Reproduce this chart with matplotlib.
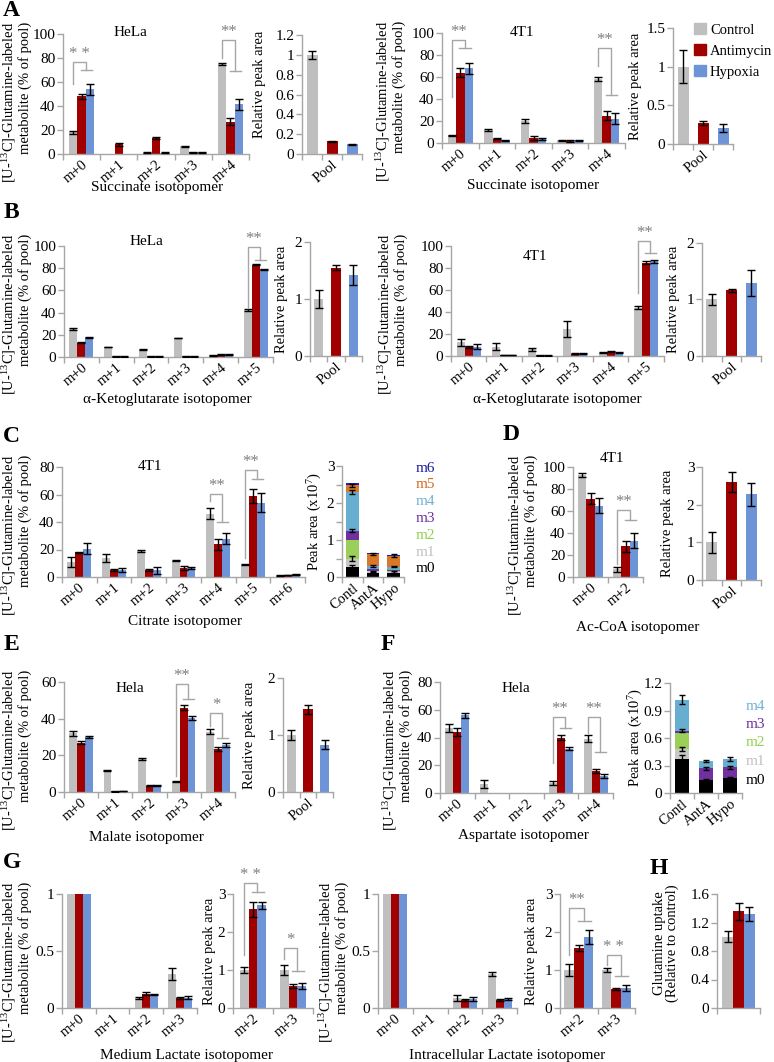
import numpy as np
import matplotlib
matplotlib.use('Agg')
import matplotlib.pyplot as plt
from matplotlib.patches import Patch

plt.rcParams['font.family'] = 'Liberation Serif'
plt.rcParams['mathtext.fontset'] = 'custom'
plt.rcParams['mathtext.rm'] = 'Liberation Serif'
plt.rcParams['mathtext.it'] = 'Liberation Serif'
plt.rcParams['mathtext.default'] = 'regular'

# colores
CTRL, ANTI, HYPO = '#bfbfbf', '#a00000', '#6d94d6'
GRIS = '#a6a6a6'
COL_M = ['#000000', '#c8c8c8', '#9bcf5a', '#7030a0', '#68aed0', '#d9772b', '#2020c0']
TXT_M = ['#000000', '#c0c0c0', '#92d050', '#7030a0', '#6fb3d2', '#d2691e', '#1a1aa0']

# ---------------- datos ----------------
iso4 = ['m+0', 'm+1', 'm+2', 'm+3']
iso5 = ['m+0', 'm+1', 'm+2', 'm+3', 'm+4']
iso6 = ['m+0', 'm+1', 'm+2', 'm+3', 'm+4', 'm+5']
iso7 = ['m+0', 'm+1', 'm+2', 'm+3', 'm+4', 'm+5', 'm+6']
condiciones = ['Control', 'Antimycin', 'Hypoxia']
apil_cat = ['Contl', 'AntA', 'Hypo']

# A - succinato HeLa
suc_hela = [[18, 0, 1, 6.5, 75], [48, 8, 13.5, 1.5, 27], [54, 0, 1, 1.5, 41.5]]
suc_hela_err = [[1, 0, 0.3, 0.5, 0.5], [2, 1.5, 1, 0.3, 3], [4.5, 0, 0.3, 0.3, 4.5]]
suc_hela_pool = [1.0, 0.13, 0.10]
suc_hela_pool_err = [0.04, 0.005, 0.005]
# A - succinato 4T1
suc_4t1 = [[7, 12, 20, 2.5, 58], [64, 4, 4.5, 2, 25], [68, 2.5, 4, 2.5, 22]]
suc_4t1_err = [[0.5, 1, 2, 0.5, 2], [4, 0.5, 1.5, 1, 4], [5, 0.3, 1, 0.5, 5]]
suc_4t1_pool = [1.0, 0.27, 0.21]
suc_4t1_pool_err = [0.21, 0.03, 0.05]

# B - alfa-cetoglutarato
akg_hela = [[25, 9, 6.5, 17, 1.5, 42], [13, 0.5, 0.5, 0.5, 2, 83], [17.5, 0.5, 0.5, 0.5, 2, 79]]
akg_hela_err = [[1, 0.3, 0.3, 0.3, 0.3, 1], [0.5, 0.2, 0.2, 0.2, 0.3, 0.5], [0.5, 0.2, 0.2, 0.2, 0.3, 0.3]]
akg_hela_pool = [1.0, 1.55, 1.42]
akg_hela_pool_err = [0.15, 0.05, 0.17]
akg_4t1 = [[12.5, 8.5, 6, 24.5, 3, 44], [8, 1, 0.5, 2, 4, 85], [8.5, 1, 0.5, 2, 3, 86]]
akg_4t1_err = [[3, 3, 1.5, 7, 0.5, 1], [1, 0.2, 0.2, 0.3, 0.5, 1.5], [2, 0.2, 0.2, 0.3, 0.5, 1]]
akg_4t1_pool = [1.0, 1.16, 1.3]
akg_4t1_pool_err = [0.1, 0.02, 0.23]

# C - citrato 4T1
cit_4t1 = [[11, 14, 19, 12, 46, 9, 1], [18, 5, 5, 6.5, 24, 59, 1.5], [20.5, 5, 5, 6.5, 28, 54, 2]]
cit_4t1_err = [[3.5, 3, 0.8, 0.3, 4, 0.5, 0.2], [0.5, 0.5, 0.5, 1.5, 4, 5, 0.2], [4, 1.5, 2.5, 0.5, 4, 7, 0.3]]
# area de pico apilada (x10^7), m0..m6
cit_apil = [[0.28, 0.10, 0.10], [0.22, 0.05, 0.04], [0.50, 0.02, 0.02], [0.25, 0.04, 0.04],
            [1.05, 0.09, 0.08], [0.18, 0.33, 0.30], [0.05, 0.02, 0.02]]
cit_apil_err = [[0.05, 0.02, 0.02], [0.08, 0.02, 0.02], [0.0, 0.0, 0.0], [0.04, 0.0, 0.0],
                [0.05, 0.02, 0.02], [0.04, 0.03, 0.04], [0.0, 0.0, 0.0]]

# D - acetil-CoA 4T1
acoa = [[93, 7], [71, 28], [65, 33]]
acoa_err = [[2, 2], [5, 5], [7, 7]]
acoa_pool = [1.0, 2.6, 2.27]
acoa_pool_err = [0.28, 0.27, 0.3]

# E - malato Hela
mal = [[32, 11.5, 18, 5.5, 33], [27, 0.3, 3.5, 46, 23.5], [30, 0.5, 3.5, 40.5, 25.5]]
mal_err = [[1.5, 0.3, 0.3, 0.3, 1.5], [1, 0.1, 0.3, 1.5, 1], [0.5, 0.1, 0.3, 1, 1]]
mal_pool = [1.0, 1.45, 0.83]
mal_pool_err = [0.08, 0.08, 0.08]

# F - aspartato Hela
asp = [[47, 6.5, 0, 7, 39], [44, 0, 0, 40, 16], [56, 0, 0, 32, 12]]
asp_err = [[3, 3, 0, 1.5, 2.5], [3, 0, 0, 2, 1.5], [2, 0, 0, 0.8, 1.5]]
# area de pico apilada (x10^7), m0..m4
asp_apil = [[0.37, 0.14, 0.16], [0.11, 0.0, 0.0], [0.17, 0.0, 0.0], [0.03, 0.13, 0.12], [0.34, 0.08, 0.09]]
asp_apil_err = [[0.04, 0.01, 0.01], [0.02, 0.0, 0.0], [0.0, 0.0, 0.0], [0.015, 0.015, 0.015], [0.05, 0.015, 0.02]]

# G - lactato
lac_med = [[1.0, 0, 0.085, 0.30], [1.0, 0, 0.125, 0.09], [1.0, 0, 0.12, 0.09]]
lac_med_err = [[0, 0, 0.01, 0.05], [0, 0, 0.015, 0.01], [0, 0, 0.005, 0.015]]
lac_med_rel = [[1.0, 1.0], [2.6, 0.57], [2.7, 0.58]]
lac_med_rel_err = [[0.08, 0.12], [0.2, 0.05], [0.1, 0.08]]
lac_int = [[1.0, 0, 0.09, 0.30], [1.0, 0, 0.07, 0.07], [1.0, 0, 0.08, 0.08]]
lac_int_err = [[0, 0, 0.025, 0.02], [0, 0, 0.005, 0.005], [0, 0, 0.015, 0.01]]
lac_int_rel = [[1.0, 1.0], [1.58, 0.5], [1.86, 0.53]]
lac_int_rel_err = [[0.15, 0.05], [0.07, 0.03], [0.18, 0.08]]

# H - captacion de glutamina
gln = [1.0, 1.36, 1.32]
gln_err = [0.08, 0.12, 0.1]

# ---------------- figura ----------------
W, H = 774, 1062
fig = plt.figure(figsize=(W / 100, H / 100), dpi=100)

YLAB = r'[U-$^{13}$C]-Glutamine-labeled' + '\nmetabolite (% of pool)'
PEAK = r'Peak area (x10$^{7}$)'
ROT = 40


def eje(x0, y0, x1, y1, ymax, ystep, ncat, cada=1):
    ax = fig.add_axes([x0 / W, 1 - y1 / H, (x1 - x0) / W, (y1 - y0) / H])
    ax.patch.set_alpha(0)
    for s in ['top', 'right']:
        ax.spines[s].set_visible(False)
    for s in ['left', 'bottom']:
        ax.spines[s].set_color(GRIS)
        ax.spines[s].set_linewidth(1)
    ax.set_xlim(-0.5, ncat - 0.5)
    ax.set_ylim(0, ymax)
    ticks = np.arange(0, ymax + ystep / 2, ystep)
    ax.set_yticks(ticks)
    ax.set_yticklabels([f'{round(t, 2):g}' if k % cada == 0 else '' for k, t in enumerate(ticks)])
    ax.tick_params(axis='y', colors=GRIS, labelcolor='black', length=4, width=1, labelsize=11, pad=1.5)
    ax.set_xticks(np.arange(ncat + 1) - 0.5)
    ax.tick_params(axis='x', which='major', colors=GRIS, length=4, width=1, labelbottom=False)
    return ax


def xlabs(ax, pos, labels):
    ax.set_xticks(pos, minor=True)
    ax.set_xticklabels(labels, minor=True, rotation=ROT, ha='right', va='top',
                       rotation_mode='anchor', fontsize=10.5)
    ax.tick_params(axis='x', which='minor', length=0, pad=3)


def barras(ax, vals, errs, w=0.23):
    n = len(vals[0])
    x = np.arange(n)
    for k, (v, e, c) in enumerate(zip(vals, errs, [CTRL, ANTI, HYPO])):
        xs = x + (k - 1) * w
        v = np.array(v, float)
        e = np.array(e, float)
        ax.bar(xs, v, w, color=c, zorder=2)
        m = e > 0
        ax.errorbar(xs[m], v[m], yerr=e[m], fmt='none', ecolor='black', elinewidth=1,
                    capsize=3, capthick=1, zorder=3)


def pool(ax, vals, errs, w=0.55):
    x = np.arange(3)
    ax.bar(x, vals, w, color=[CTRL, ANTI, HYPO], zorder=2)
    ax.errorbar(x, vals, yerr=errs, fmt='none', ecolor='black', elinewidth=1,
                capsize=3, capthick=1, zorder=3)
    xlabs(ax, [1], ['Pool'])


def apiladas(ax, segs, errs, w=0.6):
    x = np.arange(3)
    base = np.zeros(3)
    for seg, e, c in zip(segs, errs, COL_M):
        seg = np.array(seg, float)
        e = np.array(e, float)
        ax.bar(x, seg, w, bottom=base, color=c, zorder=2)
        top = base + seg
        m = e > 0
        ax.errorbar(x[m], top[m], yerr=e[m], fmt='none', ecolor='black', elinewidth=1,
                    capsize=2.5, capthick=1, zorder=3)
        base = top
    xlabs(ax, x, apil_cat)


def corchete(ax, i, y0, ytop, ypar, txt, w=0.23, dy=0):
    xl, xr = i - w, i + w / 2
    ax.plot([xl, xl, xr, xr], [y0, ytop, ytop, ypar], color=GRIS, lw=1, clip_on=False, zorder=4)
    ax.plot([i - 0.1 * w, i + 1.25 * w], [ypar, ypar], color=GRIS, lw=1, clip_on=False, zorder=4)
    ax.annotate(txt, ((xl + xr) / 2, ytop), xytext=(0, dy), textcoords='offset points',
                ha='center', va='bottom', color='#7f7f7f', fontsize=12, annotation_clip=False)


def ylab(ax, txt, xpx, dy=0, fs=10.5):
    # etiqueta de una linea, centrada en el eje
    b = ax.get_position()
    fig.text(xpx / W, b.y0 + b.height / 2 - dy / H, txt, rotation=90, ha='center', va='center',
             fontsize=fs, linespacing=1.0)


def ylab_iso(ax, xpx):
    # etiqueta de dos lineas, alineada arriba como en Excel
    b = ax.get_position()
    fig.text(xpx / W, b.y1 + 12 / H, YLAB, rotation=90, ha='center', va='top',
             multialignment='right', fontsize=10.5, linespacing=0.95)


def texto(xpx, ypx, txt, **kw):
    fig.text(xpx / W, 1 - ypx / H, txt, ha='center', va='center', **kw)


def letra(xpx, ypx, txt):
    texto(xpx, ypx, txt, fontsize=17, fontweight='bold')


# ---- A ----
letra(11, 11, 'A')
ax = eje(63, 34, 249, 154, 100, 20, 5)
barras(ax, suc_hela, suc_hela_err)
xlabs(ax, np.arange(5), iso5)
corchete(ax, 0, 58, 77, 70, '* *')
corchete(ax, 4, 80, 95, 69, '**')
ylab_iso(ax, 16)
texto(130, 33, 'HeLa', fontsize=11)
texto(157, 188, 'Succinate isotopomer', fontsize=11)

ax = eje(302, 35, 362, 154, 1.2, 0.2, 3)
pool(ax, suc_hela_pool, suc_hela_pool_err)
ylab(ax, 'Relative peak area', 259, dy=-10)

ax = eje(442, 33, 625, 143, 100, 20, 5)
barras(ax, suc_4t1, suc_4t1_err)
xlabs(ax, np.arange(5), iso5)
corchete(ax, 0, 42, 94, 86, '**')
corchete(ax, 4, 70, 86, 44, '**')
ylab_iso(ax, 390)
texto(522, 32, '4T1', fontsize=11)
texto(533, 186, 'Succinate isotopomer', fontsize=11)

ax = eje(673, 28, 733, 144, 1.5, 0.5, 3)
pool(ax, suc_4t1_pool, suc_4t1_pool_err)
ylab(ax, 'Relative peak area', 636)

fig.legend(handles=[Patch(color=c) for c in [CTRL, ANTI, HYPO]], labels=condiciones,
           loc='upper left', bbox_to_anchor=(694 / W, 1 - 23 / H), frameon=False, fontsize=10.5,
           handlelength=0.8, handleheight=0.8, handletextpad=0.3, labelspacing=0.5, borderpad=0,
           borderaxespad=0)

# ---- B ----
letra(11, 212, 'B')
ax = eje(64, 246, 273, 357, 100, 20, 6)
barras(ax, akg_hela, akg_hela_err)
xlabs(ax, np.arange(6), iso6)
corchete(ax, 5, 44, 99, 87, '**')
ylab_iso(ax, 16)
texto(146, 242, 'HeLa', fontsize=11)
texto(167, 400, 'α-Ketoglutarate isotopomer', fontsize=11)

ax = eje(310, 242, 362, 356, 2, 1, 3)
pool(ax, akg_hela_pool, akg_hela_pool_err)
ylab(ax, 'Relative peak area', 281)

ax = eje(451, 246, 664, 356, 100, 20, 6)
barras(ax, akg_4t1, akg_4t1_err)
xlabs(ax, np.arange(6), iso6)
corchete(ax, 5, 57, 105, 94, '**')
ylab_iso(ax, 392)
texto(535, 257, '4T1', fontsize=11)
texto(557, 400, 'α-Ketoglutarate isotopomer', fontsize=11)

ax = eje(702, 243, 761, 356, 2, 1, 3)
pool(ax, akg_4t1_pool, akg_4t1_pool_err)
ylab(ax, 'Relative peak area', 673)

# ---- C ----
letra(11, 437, 'C')
ax = eje(62, 467, 305, 577, 80, 20, 7)
barras(ax, cit_4t1, cit_4t1_err)
xlabs(ax, np.arange(7), iso7)
corchete(ax, 4, 55, 60.6, 40, '**')
corchete(ax, 5, 14, 77.6, 71.5, '**')
ylab_iso(ax, 16)
texto(150, 467, '4T1', fontsize=11)
texto(185, 622, 'Citrate isotopomer', fontsize=11)

ax = eje(342, 466, 404, 577, 3, 0.5, 3, cada=2)
apiladas(ax, cit_apil, cit_apil_err)
ylab(ax, PEAK, 315)
for k in range(7):
    texto(425, 569 - k * 16.8, f'm{k}', fontsize=11, color=TXT_M[k])

# ---- D ----
letra(511, 435, 'D')
ax = eje(573, 467, 643, 577, 100, 20, 2)
barras(ax, acoa, acoa_err)
xlabs(ax, np.arange(2), ['m+0', 'm+2'])
corchete(ax, 1, 12, 61, 52, '**')
ylab_iso(ax, 522)
texto(612, 458, '4T1', fontsize=11)
texto(638, 627, 'Ac-CoA isotopomer', fontsize=11)

ax = eje(702, 467, 761, 580, 3, 1, 3)
pool(ax, acoa_pool, acoa_pool_err)
ylab(ax, 'Relative peak area', 668)

# ---- E ----
letra(11, 645, 'E')
ax = eje(64, 682, 235, 792, 60, 20, 5)
barras(ax, mal, mal_err)
xlabs(ax, np.arange(5), iso5)
corchete(ax, 3, 9, 59, 51, '**')
corchete(ax, 4, 36, 43, 29.5, '*')
ylab_iso(ax, 16)
texto(130, 688, 'Hela', fontsize=11)
texto(146, 837, 'Malate isotopomer', fontsize=11)

ax = eje(283, 678, 333, 792, 2, 1, 3)
pool(ax, mal_pool, mal_pool_err)
ylab(ax, 'Relative peak area', 250)

# ---- F ----
letra(388, 645, 'F')
ax = eje(440, 682, 613, 793, 80, 20, 5)
barras(ax, asp, asp_err)
xlabs(ax, np.arange(5), iso5)
corchete(ax, 3, 21.6, 54.8, 47, '**')
corchete(ax, 4, 43, 54.8, 29.5, '**')
ylab_iso(ax, 397)
texto(516, 688, 'Hela', fontsize=11)
texto(523, 835, 'Aspartate isotopomer', fontsize=11)

ax = eje(670, 683, 742, 793, 1.2, 0.3, 3)
apiladas(ax, asp_apil, asp_apil_err)
ylab(ax, PEAK, 636)
for k in range(5):
    texto(755, 780 - k * 18.5, f'm{k}', fontsize=11, color=TXT_M[k])

# ---- G ----
letra(12, 862, 'G')
ax = eje(62, 894, 197, 1008, 1, 0.5, 4)
barras(ax, lac_med, lac_med_err)
xlabs(ax, np.arange(4), iso4)
ylab_iso(ax, 16)

ax = eje(233, 894, 313, 1008, 3, 1, 2)
barras(ax, lac_med_rel, lac_med_rel_err, w=0.22)
xlabs(ax, np.arange(2), ['m+2', 'm+3'])
corchete(ax, 0, 1.4, 3.3, 3.05, '* *', w=0.22)
corchete(ax, 1, 1.3, 1.58, 0.98, '*', w=0.22)
ylab(ax, 'Relative peak area', 210)
texto(187, 1055, 'Medium Lactate isotopomer', fontsize=11)

ax = eje(378, 894, 517, 1008, 1, 0.5, 4)
barras(ax, lac_int, lac_int_err)
xlabs(ax, np.arange(4), iso4)
ylab_iso(ax, 333)

ax = eje(560, 894, 635, 1008, 3, 1, 2)
barras(ax, lac_int_rel, lac_int_rel_err, w=0.26)
xlabs(ax, np.arange(2), ['m+2', 'm+3'])
corchete(ax, 0, 1.4, 2.63, 2.3, '**', w=0.26)
corchete(ax, 1, 1.13, 1.39, 0.84, '* *', w=0.26)
ylab(ax, 'Relative peak area', 532)
texto(507, 1055, 'Intracellular Lactate isotopomer', fontsize=11)

# ---- H ----
letra(659, 868, 'H')
ax = eje(717, 894, 760, 1008, 1.6, 0.4, 1)
x = np.arange(1)
for k, c in enumerate([CTRL, ANTI, HYPO]):
    ax.bar(x + (k - 1) * 0.25, gln[k], 0.25, color=c, zorder=2)
    ax.errorbar(x + (k - 1) * 0.25, gln[k], yerr=gln_err[k], fmt='none', ecolor='black',
                elinewidth=1, capsize=3, capthick=1, zorder=3)
ylab(ax, 'Glutamine uptake\n(Relative to control)', 666, dy=-8)

fig.savefig('out.png', dpi=100)
